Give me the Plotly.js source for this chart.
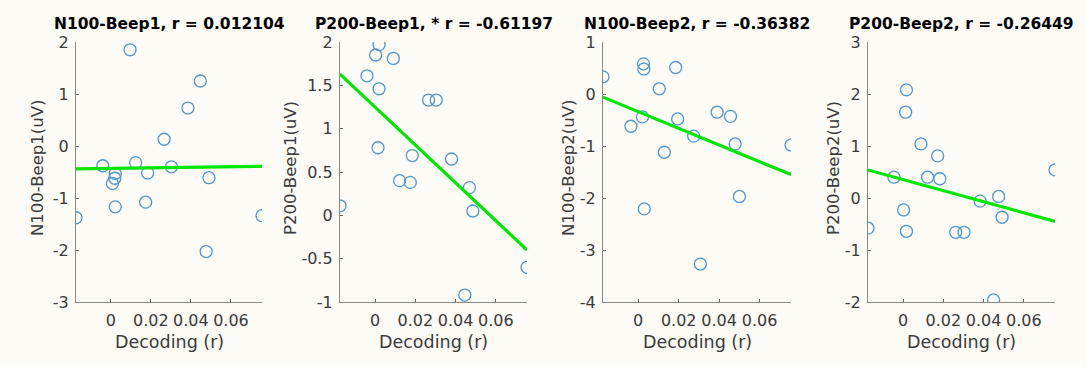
<!DOCTYPE html>
<html>
<head>
<meta charset="utf-8">
<script src="https://cdn.plot.ly/plotly-3.0.1.min.js"></script>
<style>html,body{margin:0;padding:0;background:#fcfbf6;}#chart{width:1087px;height:367px;}</style>
</head>
<body>
<div id="chart"></div>
<script>
// ---- data ----
const panelTitles = ["N100-Beep1, r = 0.012104", "P200-Beep1, * r = -0.61197", "N100-Beep2, r = -0.36382", "P200-Beep2, r = -0.26449"];
const yTitles = ["N100-Beep1(uV)", "P200-Beep1(uV)", "N100-Beep2(uV)", "P200-Beep2(uV)"];
const xTitle = "Decoding (r)";

const decodingN100Beep1 = [-0.0174, -0.0040, 0.0008, 0.0020, 0.0022, 0.0022, 0.0096, 0.0124, 0.0174, 0.0184, 0.0266, 0.0303, 0.0385, 0.0447, 0.0476, 0.0490, 0.0755];
const n100Beep1 = [-1.38, -0.38, -0.72, -0.62, -0.53, -1.17, 1.85, -0.32, -1.08, -0.52, 0.13, -0.40, 0.73, 1.25, -2.03, -0.61, -1.34];

const decodingP200Beep1 = [-0.0174, -0.0040, 0.0003, 0.0015, 0.0020, 0.0020, 0.0091, 0.0122, 0.0175, 0.0185, 0.0266, 0.0304, 0.0380, 0.0446, 0.0469, 0.0486, 0.0755];
const p200Beep1 = [0.11, 1.61, 1.85, 0.78, 1.97, 1.46, 1.81, 0.40, 0.38, 0.69, 1.33, 1.33, 0.65, -0.92, 0.32, 0.05, -0.60];

const decodingN100Beep2 = [-0.0174, -0.0036, 0.0021, 0.0026, 0.0028, 0.0030, 0.0104, 0.0129, 0.0185, 0.0195, 0.0274, 0.0307, 0.0390, 0.0456, 0.0479, 0.0500, 0.0755];
const n100Beep2 = [0.33, -0.62, -0.44, 0.58, 0.48, -2.21, 0.10, -1.12, 0.51, -0.48, -0.81, -3.27, -0.35, -0.43, -0.96, -1.97, -0.98];

const decodingP200Beep2 = [-0.0174, -0.0045, 0.0003, 0.0013, 0.0017, 0.0017, 0.0089, 0.0122, 0.0172, 0.0183, 0.0262, 0.0303, 0.0383, 0.0450, 0.0475, 0.0492, 0.0755];
const p200Beep2 = [-0.58, 0.40, -0.23, 1.65, 2.08, -0.64, 1.04, 0.40, 0.81, 0.37, -0.66, -0.66, -0.06, -1.96, 0.03, -0.37, 0.54];

// least-squares line end values read at the data x-extremes
const fitN100Beep1 = [-0.44, -0.39];
const fitP200Beep1 = [1.63, -0.40];
const fitN100Beep2 = [-0.06, -1.55];
const fitP200Beep2 = [0.54, -0.45];

const xTickVals = [0, 0.02, 0.04, 0.06];
const xTickText = ["0", "0.02", "0.04", "0.06"];
const yTickVals1 = [-3, -2, -1, 0, 1, 2];
const yTickText1 = ["-3", "-2", "-1", "0", "1", "2"];
const yTickVals2 = [-1, -0.5, 0, 0.5, 1, 1.5, 2];
const yTickText2 = ["-1", "-0.5", "0", "0.5", "1", "1.5", "2"];
const yTickVals3 = [-4, -3, -2, -1, 0, 1];
const yTickText3 = ["-4", "-3", "-2", "-1", "0", "1"];
const yTickVals4 = [-2, -1, 0, 1, 2, 3];
const yTickText4 = ["-2", "-1", "0", "1", "2", "3"];

// ---- build ----
const W = 1087, H = 367;
const panelsPx = [[76, 262], [340, 527], [603, 791], [868, 1055]];
const plotTop = 42, plotBottom = 302;
const yDom = [1 - plotBottom / H, 1 - plotTop / H];
const xRange = [-0.0174, 0.0755];

const panels = [
  {x: decodingN100Beep1, y: n100Beep1, fit: fitN100Beep1, yr: [-3, 2], tv: yTickVals1, tt: yTickText1, yTitleX: 37},
  {x: decodingP200Beep1, y: p200Beep1, fit: fitP200Beep1, yr: [-1, 2], tv: yTickVals2, tt: yTickText2, yTitleX: 290},
  {x: decodingN100Beep2, y: n100Beep2, fit: fitN100Beep2, yr: [-4, 1], tv: yTickVals3, tt: yTickText3, yTitleX: 568},
  {x: decodingP200Beep2, y: p200Beep2, fit: fitP200Beep2, yr: [-2, 3], tv: yTickVals4, tt: yTickText4, yTitleX: 833}
];

const FONT = "DejaVu Sans";
const axisColor = "#8c8882";
const textColor = "#3a3a3a";
const traces = [];
const layout = {
  width: W, height: H,
  margin: {l: 0, r: 0, t: 0, b: 0},
  paper_bgcolor: "#fcfbf6",
  plot_bgcolor: "#fcfbf6",
  showlegend: false,
  font: {family: FONT, size: 16, color: textColor},
  annotations: []
};

panels.forEach((p, i) => {
  const n = i === 0 ? "" : String(i + 1);
  const xa = "x" + n, ya = "y" + n;
  const xMin = Math.min(...p.x), xMax = Math.max(...p.x);
  traces.push({
    type: "scatter", mode: "markers", x: p.x, y: p.y, xaxis: xa, yaxis: ya,
    marker: {symbol: "circle-open", size: 12, color: "rgb(80,150,208)", line: {width: 1.3, color: "rgb(80,150,208)"}},
    hoverinfo: "skip"
  });
  traces.push({
    type: "scatter", mode: "lines", x: [xMin, xMax], y: p.fit, xaxis: xa, yaxis: ya,
    line: {color: "#00e600", width: 3.2}, hoverinfo: "skip"
  });
  const dom = [panelsPx[i][0] / W, panelsPx[i][1] / W];
  layout["xaxis" + n] = {
    domain: dom, anchor: ya, range: xRange,
    tickvals: xTickVals, ticktext: xTickText,
    showline: true, linecolor: axisColor, linewidth: 1.2,
    ticks: "inside", ticklen: 3, tickcolor: "#666", tickwidth: 1,
    showgrid: false, zeroline: false, ticklabelstandoff: 4,
    tickfont: {family: FONT, size: 16, color: textColor}
  };
  layout["yaxis" + n] = {
    domain: yDom, anchor: xa, range: p.yr,
    tickvals: p.tv, ticktext: p.tt,
    showline: true, linecolor: axisColor, linewidth: 1.2,
    ticks: "inside", ticklen: 3, tickcolor: "#666", tickwidth: 1,
    showgrid: false, zeroline: false, ticklabelstandoff: 3,
    tickfont: {family: FONT, size: 16, color: textColor}
  };
  const cx = (dom[0] + dom[1]) / 2;
  layout.annotations.push({
    text: "<b>" + panelTitles[i] + "</b>", xref: "paper", yref: "paper",
    x: cx, y: 1 - 24 / H, xanchor: "center", yanchor: "middle", showarrow: false,
    font: {family: FONT, size: 15.5, color: "#000"}
  });
  layout.annotations.push({
    text: xTitle, xref: "paper", yref: "paper",
    x: cx, y: 1 - 342 / H, xanchor: "center", yanchor: "middle", showarrow: false,
    font: {family: FONT, size: 17.5, color: textColor}
  });
  layout.annotations.push({
    text: yTitles[i], xref: "paper", yref: "paper", textangle: -90,
    x: p.yTitleX / W, y: 1 - 168 / H, xanchor: "center", yanchor: "middle", showarrow: false,
    font: {family: FONT, size: 16.5, color: textColor}
  });
});

Plotly.newPlot("chart", traces, layout, {staticPlot: true, displayModeBar: false});
</script>
</body>
</html>
